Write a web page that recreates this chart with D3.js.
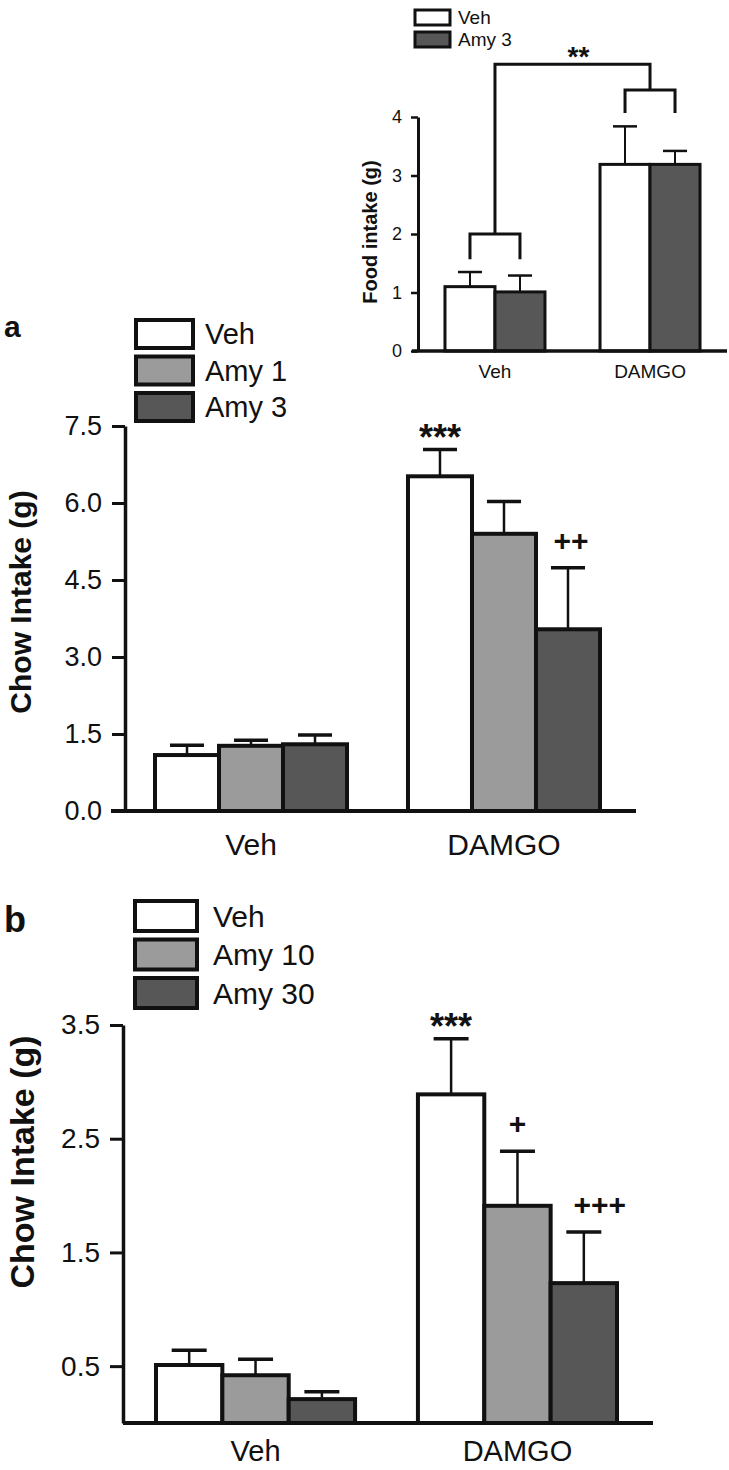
<!DOCTYPE html>
<html>
<head>
<meta charset="utf-8">
<script src="https://cdn.jsdelivr.net/npm/d3@7/dist/d3.min.js"></script>
<style>
  html, body { margin: 0; padding: 0; background: #fff; }
  svg { display: block; font-family: "Liberation Sans", Arial, sans-serif; }
</style>
</head>
<body>
<svg id="chart" width="729" height="1470"></svg>
<script>
// ---------------- DATA ----------------
// Inset (Food intake)
const insetGroups = ["Veh", "DAMGO"];
const insetSeries = ["Veh", "Amy 3"];
const insetVeh  = [1.10, 3.19];
const insetAmy3 = [1.01, 3.19];
const insetVehErr  = [0.25, 0.65];
const insetAmy3Err = [0.28, 0.23];
const insetTicks = [0, 1, 2, 3, 4];
const insetSubBrackets = [ { group: "Veh", level: 2.0, leg: 1.57 }, { group: "DAMGO", level: 4.46, leg: 4.07 } ];
const insetTopBracket = { level: 4.9, label: "**" };

// Panel a
const groupsA = ["Veh", "DAMGO"];
const seriesA = ["Veh", "Amy 1", "Amy 3"];
const vehA  = [1.09, 6.52];
const amy1A = [1.27, 5.40];
const amy3A = [1.30, 3.54];
const vehAErr  = [0.19, 0.52];
const amy1AErr = [0.11, 0.63];
const amy3AErr = [0.18, 1.20];
const ticksA = [0, 1.5, 3.0, 4.5, 6.0, 7.5];
const annotA = [ { group: "DAMGO", series: "Veh", text: "***" }, { group: "DAMGO", series: "Amy 3", text: "++" } ];

// Panel b
const groupsB = ["Veh", "DAMGO"];
const seriesB = ["Veh", "Amy 10", "Amy 30"];
const vehB   = [0.51, 2.89];
const amy10B = [0.42, 1.91];
const amy30B = [0.21, 1.23];
const vehBErr   = [0.13, 0.49];
const amy10BErr = [0.14, 0.48];
const amy30BErr = [0.065, 0.45];
const ticksB = [0.5, 1.5, 2.5, 3.5];
const annotB = [ { group: "DAMGO", series: "Veh", text: "***" }, { group: "DAMGO", series: "Amy 10", text: "+" }, { group: "DAMGO", series: "Amy 30", text: "+++" } ];

// ---------------- DRAW ----------------
const svg = d3.select("#chart");
svg.append("rect").attr("width", 729).attr("height", 1470).attr("fill", "#fff");
const INK = "#111";
const FILLS = ["#ffffff", "#9b9b9b", "#575757"];

function drawPanel(o) {
  const g = svg.append("g");
  const y = d3.scaleLinear().domain(o.yDomain).range(o.yRange);
  const x0 = d3.scaleBand().domain(o.groups).range(o.xRange)
    .paddingInner(o.padIn).paddingOuter(o.padOut);
  const x1 = d3.scaleBand().domain(o.series).range([0, x0.bandwidth()]);
  const rows = [];
  o.groups.forEach((grp, gi) => {
    o.series.forEach((s, si) => {
      rows.push({ grp, s, si, v: o.values[si][gi], e: o.errors[si][gi] });
    });
  });
  const cx = d => x0(d.grp) + x1(d.s) + x1.bandwidth() / 2;

  // error bars (behind bars)
  const eb = g.append("g");
  eb.selectAll("line.v").data(rows).join("line")
    .attr("x1", cx).attr("x2", cx)
    .attr("y1", d => y(d.v)).attr("y2", d => y(d.v + d.e))
    .attr("stroke", INK).attr("stroke-width", o.errW);
  eb.selectAll("line.c").data(rows).join("line")
    .attr("x1", d => cx(d) - o.capW / 2).attr("x2", d => cx(d) + o.capW / 2)
    .attr("y1", d => y(d.v + d.e)).attr("y2", d => y(d.v + d.e))
    .attr("stroke", INK).attr("stroke-width", o.capSW);

  // bars
  g.append("g").selectAll("rect").data(rows).join("rect")
    .attr("x", d => x0(d.grp) + x1(d.s))
    .attr("y", d => y(d.v))
    .attr("width", x1.bandwidth())
    .attr("height", d => y(0) - y(d.v))
    .attr("fill", d => o.fills[d.si])
    .attr("stroke", INK).attr("stroke-width", o.barSW);

  // y axis
  const ax = g.append("g").attr("transform", `translate(${o.axisX},0)`)
    .call(d3.axisLeft(y).tickValues(o.ticks).tickFormat(o.fmt)
      .tickSize(o.tickLen).tickSizeOuter(0).tickPadding(o.tickPad));
  ax.select(".domain").attr("stroke", INK).attr("stroke-width", o.axisSW);
  ax.selectAll(".tick line").attr("stroke", INK).attr("stroke-width", o.axisSW - 0.5);
  ax.selectAll(".tick text").attr("fill", INK).attr("font-size", o.tickFS)
    .attr("font-family", "Liberation Sans, Arial, sans-serif");

  // baseline (x axis)
  g.append("line").attr("x1", o.baseX[0]).attr("x2", o.baseX[1])
    .attr("y1", y(0)).attr("y2", y(0)).attr("stroke", INK).attr("stroke-width", o.axisSW + 0.5);

  // category labels
  g.append("g").selectAll("text").data(o.groups).join("text")
    .attr("x", d => x0(d) + x0.bandwidth() / 2)
    .attr("y", y(0) + o.catDy)
    .attr("text-anchor", "middle").attr("font-size", o.catFS).attr("fill", INK)
    .text(d => d);

  // y title
  g.append("text")
    .attr("transform", `translate(${o.titleX},${o.titleY}) rotate(-90)`)
    .attr("text-anchor", "middle").attr("dominant-baseline", "central")
    .attr("font-size", o.titleFS).attr("font-weight", "bold").attr("fill", INK)
    .text(o.title);

  // legend
  const lg = g.append("g");
  o.series.forEach((s, i) => {
    lg.append("rect").attr("x", o.leg.x).attr("y", o.leg.y + i * o.leg.step)
      .attr("width", o.leg.w).attr("height", o.leg.h)
      .attr("fill", o.fills[i]).attr("stroke", INK).attr("stroke-width", o.leg.sw);
    lg.append("text").attr("x", o.leg.x + o.leg.w + o.leg.gap)
      .attr("y", o.leg.y + i * o.leg.step + o.leg.h / 2)
      .attr("dominant-baseline", "central")
      .attr("font-size", o.leg.fs).attr("fill", INK).text(s);
  });

  // panel letter
  if (o.letter) {
    g.append("text").attr("x", o.letter.x).attr("y", o.letter.y)
      .attr("font-size", o.letter.fs).attr("font-weight", "bold").attr("fill", INK)
      .text(o.letter.t);
  }

  // significance annotations
  if (o.annot) {
    o.annot.forEach(a => {
      const si = o.series.indexOf(a.series);
      const gi = o.groups.indexOf(a.group);
      const top = o.values[si][gi] + o.errors[si][gi];
      const isStar = a.text.indexOf("*") >= 0;
      g.append("text")
        .attr("x", x0(a.group) + x1(a.series) + x1.bandwidth() / 2 + (isStar ? 0 : o.plusDx * (a.text.length - 1)))
        .attr("y", y(top) - (isStar ? o.starGap : o.plusGap))
        .attr("text-anchor", "middle").attr("font-weight", "bold")
        .attr("font-size", isStar ? o.starFS : o.plusFS).attr("fill", INK)
        .text(a.text);
    });
  }
  return { x0, x1, y, g };
}

// Inset
const inset = drawPanel({
  groups: insetGroups, series: insetSeries,
  values: [insetVeh, insetAmy3], errors: [insetVehErr, insetAmy3Err],
  fills: [FILLS[0], FILLS[2]],
  yDomain: [0, 4], yRange: [351, 117],
  xRange: [418, 727], padIn: 0.355, padOut: 0.174,
  axisX: 418, ticks: insetTicks, fmt: d3.format("d"), tickLen: 7, tickPad: 9, tickFS: 18,
  axisSW: 3, barSW: 3, errW: 2, capW: 24, capSW: 2.5,
  baseX: [412, 727], catDy: 27, catFS: 19,
  title: "Food intake (g)", titleX: 370, titleY: 232, titleFS: 20,
  leg: { x: 415, y: 10, w: 35, h: 15, step: 22, gap: 8, sw: 3, fs: 19 }
});
// inset brackets
(function () {
  const { x0, x1, y, g } = inset;
  const centers = grp => insetSeries.map(s => x0(grp) + x1(s) + x1.bandwidth() / 2);
  const mids = {};
  insetSubBrackets.forEach(b => {
    const c = centers(b.group);
    const path = d3.path();
    path.moveTo(c[0], y(b.leg)); path.lineTo(c[0], y(b.level));
    path.lineTo(c[1], y(b.level)); path.lineTo(c[1], y(b.leg));
    g.append("path").attr("d", path.toString()).attr("fill", "none")
      .attr("stroke", INK).attr("stroke-width", 3);
    mids[b.group] = { x: (c[0] + c[1]) / 2, y: y(b.level) };
  });
  const a = mids["Veh"], b = mids["DAMGO"];
  const p = d3.path();
  p.moveTo(a.x, a.y); p.lineTo(a.x, y(insetTopBracket.level));
  p.lineTo(b.x, y(insetTopBracket.level)); p.lineTo(b.x, b.y);
  g.append("path").attr("d", p.toString()).attr("fill", "none")
    .attr("stroke", INK).attr("stroke-width", 3);
  g.append("text").attr("x", (a.x + b.x) / 2 + 6).attr("y", y(insetTopBracket.level) + 2)
    .attr("text-anchor", "middle").attr("font-weight", "bold").attr("font-size", 28)
    .attr("fill", INK).text(insetTopBracket.label);
})();

// Panel a
drawPanel({
  groups: groupsA, series: seriesA,
  values: [vehA, amy1A, amy3A], errors: [vehAErr, amy1AErr, amy3AErr],
  fills: FILLS,
  yDomain: [0, 7.5], yRange: [811, 426],
  xRange: [125, 630], padIn: 0.241, padOut: 0.1186,
  axisX: 125, ticks: ticksA, fmt: d3.format(".1f"), tickLen: 13, tickPad: 10, tickFS: 27,
  axisSW: 3.5, barSW: 4, errW: 2.5, capW: 34, capSW: 3.5,
  baseX: [111, 636], catDy: 44, catFS: 30,
  title: "Chow Intake (g)", titleX: 20, titleY: 602, titleFS: 30,
  leg: { x: 136, y: 320, w: 57, h: 28, step: 36.5, gap: 12, sw: 4, fs: 29 },
  letter: { x: 4, y: 337, fs: 30, t: "a" },
  annot: annotA, starFS: 36, starGap: 0, plusFS: 30, plusGap: 17, plusDx: 3
});

// Panel b
drawPanel({
  groups: groupsB, series: seriesB,
  values: [vehB, amy10B, amy30B], errors: [vehBErr, amy10BErr, amy30BErr],
  fills: FILLS,
  yDomain: [0, 3.5], yRange: [1423, 1025],
  xRange: [123, 650], padIn: 0.24, padOut: 0.126,
  axisX: 123, ticks: ticksB, fmt: d3.format(".1f"), tickLen: 13, tickPad: 10, tickFS: 28,
  axisSW: 3.5, barSW: 4, errW: 2.5, capW: 35, capSW: 3.5,
  baseX: [123, 653], catDy: 38, catFS: 29,
  title: "Chow Intake (g)", titleX: 22, titleY: 1162, titleFS: 34,
  leg: { x: 135, y: 901, w: 62, h: 30, step: 38.5, gap: 16, sw: 4, fs: 30 },
  letter: { x: 4, y: 932, fs: 36, t: "b" },
  annot: annotB, starFS: 36, starGap: 0, plusFS: 30, plusGap: 17, plusDx: 8
});
</script>
</body>
</html>
